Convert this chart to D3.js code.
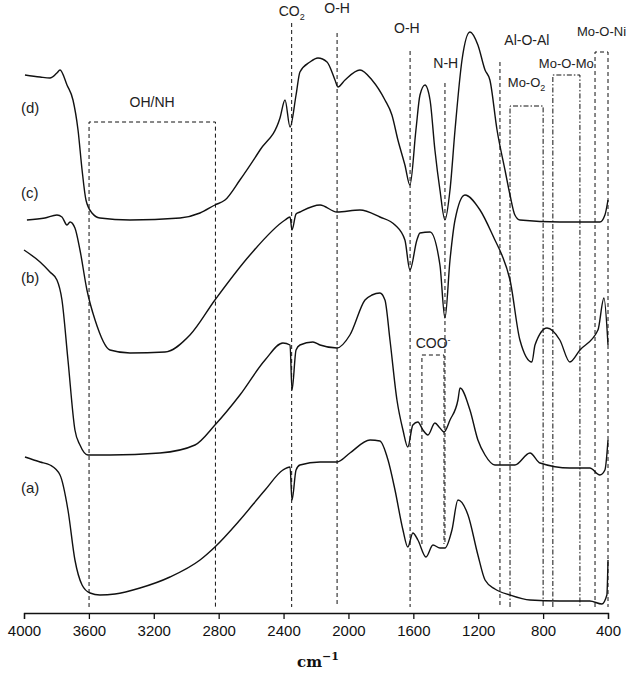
<!DOCTYPE html>
<html><head><meta charset="utf-8">
<script src="https://cdn.jsdelivr.net/npm/d3@7/dist/d3.min.js"></script>
<style>body{margin:0;background:#fff}</style>
</head><body>
<svg id="c" width="642" height="677"></svg>
<script>
// wavenumbers (cm-1) and relative transmittance (arbitrary, offset curves)
const dWn=[3994,3901,3840,3797,3778,3735,3698,3667,3642,3618,3581,3532,3347,3038,2915,2823,2761,2669,2545,2422,2391,2360,2323,2299,2237,2188,2132,2083,2065,2021,1929,1855,1775,1732,1695,1652,1621,1584,1559,1528,1497,1467,1436,1405,1374,1343,1300,1251,1202,1158,1128,1084,1035,1004,974,943,697,450,419,400];
const dT=[538,536,535,540,543,528,513,483,443,413,400,395,393,395,400,408,413,433,463,495,513,486,518,541,551,555,551,533,526,533,543,533,513,498,473,448,428,483,518,528,513,463,423,393,423,483,553,581,568,543,533,483,443,418,398,393,391,391,398,413];
const cWn=[3982,3871,3797,3766,3735,3716,3686,3655,3612,3562,3470,3347,3131,2977,2823,2607,2391,2360,2348,2323,2299,2175,2071,1929,1806,1713,1652,1621,1578,1559,1497,1436,1405,1374,1343,1282,1189,1097,1054,1004,943,869,850,776,697,635,573,462,425,400];
const cT=[393,395,398,396,388,391,385,363,323,293,263,260,261,278,313,358,393,396,383,399,401,408,401,403,396,388,373,343,373,380,381,348,295,353,393,418,403,373,358,333,273,251,268,285,273,251,263,283,315,268];
const bWn=[4000,3901,3840,3797,3766,3729,3686,3655,3606,3470,3162,2946,2823,2669,2514,2404,2360,2348,2323,2299,2219,2175,2071,1991,1898,1855,1806,1775,1744,1701,1664,1634,1603,1572,1541,1510,1467,1436,1411,1374,1325,1312,1251,1202,1158,1097,974,881,819,635,512,450,419,400];
const bT=[363,351,341,333,313,253,183,168,158,158,160,168,188,218,253,270,268,223,263,268,271,268,265,278,313,318,320,313,273,213,183,166,188,191,183,178,190,185,181,193,213,225,203,173,158,148,148,160,150,145,145,138,143,173];
const aWn=[3994,3901,3840,3778,3729,3686,3642,3593,3532,3439,3285,3100,2915,2823,2669,2514,2404,2360,2348,2323,2299,2175,2071,1991,1867,1806,1756,1713,1664,1634,1603,1572,1522,1479,1436,1405,1362,1325,1263,1202,1158,1097,1004,881,697,512,438,407,400];
const aT=[156,151,148,138,103,53,28,20,18,19,25,36,53,66,93,123,143,146,113,143,148,151,151,160,173,172,153,123,83,66,80,73,56,68,65,65,83,113,98,58,33,24,18,13,12,12,9,18,53];
const xTicks=[4000,3600,3200,2800,2400,2000,1600,1200,800,400];
const curveLabels=[["(d)",500],["(c)",415],["(b)",330],["(a)",120]];
// band markers: [wavenumber, top value, bottom value]
const bandLines=[[2350,590,0],[2070,580,0],[1620,562,0],[1405,530,63],[1066,551,0]];
const bandLabels=[["CO",2350,597],["O-H",2070,600],["O-H",1640,580],["N-H",1400,545],["Al-O-Al",900,568],["OH/NH",3210,506]];
const boxes=[[3599,2820,491,0,"4,3"],[1547,1411,258,63,"4,3"],[1004,800,507,0,"5,2,1.5,2"],[740,573,538,0,"5,2,1.5,2"],[480,400,561,0,"4,3"]];
const boxLabels=[["COO",1478,265],["Mo-O",902,526],["Mo-O-Mo",657,545],["Mo-O-Ni",440,577]];

const svg=d3.select("#c");
const x=d3.scaleLinear().domain([4000,400]).range([24,608]);
const y=d3.scaleLinear().domain([0,600]).range([613,13]);
const font="'Liberation Sans',Arial,sans-serif";

bandLines.forEach(([w,t,b])=>svg.append("line").attr("x1",x(w)).attr("x2",x(w)).attr("y1",y(t)).attr("y2",y(b+6))
  .attr("stroke","#111").attr("stroke-width",1).attr("stroke-dasharray","4,3"));
boxes.forEach(([w1,w2,t,b,da])=>{
  svg.append("path").attr("d",`M${x(w1)},${y(b+6)}V${y(t)}H${x(w2)}V${y(b+6)}`).attr("fill","none")
   .attr("stroke","#111").attr("stroke-width",1).attr("stroke-dasharray",da);
});

const line=d3.line().x(d=>x(d[0])).y(d=>y(d[1])).curve(d3.curveMonotoneX);
[[dWn,dT],[cWn,cT],[bWn,bT],[aWn,aT]].forEach(([w,t])=>{
  svg.append("path").attr("d",line(w.map((v,i)=>[v,t[i]]))).attr("fill","none").attr("stroke","#111").attr("stroke-width",1.4);
});

bandLabels.forEach(([s,w,t],i)=>{
  const tx=svg.append("text").attr("x",x(w)).attr("y",y(t)).attr("text-anchor","middle")
  .attr("font-family",font).attr("font-size",14).attr("fill","#222").text(s);
  if(i==0) tx.append("tspan").attr("dy",4).attr("font-size",9).text("2");
});
boxLabels.forEach(([s,w,t],i)=>{
  const tx=svg.append("text").attr("x",x(w)).attr("y",y(t)).attr("text-anchor","middle")
   .attr("font-family",font).attr("font-size",i==0?14:13).attr("fill","#222").text(s);
  if(i==0) tx.append("tspan").attr("dy",-5).attr("font-size",9).text("-");
  if(i==1) tx.append("tspan").attr("dy",4).attr("font-size",9).text("2");
});
curveLabels.forEach(([s,t])=>svg.append("text").attr("x",21).attr("y",y(t)).attr("font-family",font)
  .attr("font-size",15).attr("fill","#222").text(s));

const ax=svg.append("g").attr("transform","translate(0,613)")
  .call(d3.axisBottom(x).tickValues(xTicks).tickSize(6).tickFormat(d3.format("d")));
ax.select(".domain").attr("stroke","#111").attr("stroke-width",1.3);
ax.selectAll(".tick line").attr("stroke","#111").attr("stroke-width",1.3);
ax.selectAll("text").attr("font-family",font).attr("font-size",15).attr("fill","#111").attr("dy","0.9em");
const xl=svg.append("text").attr("x",318).attr("y",667).attr("text-anchor","middle")
  .attr("font-family","'DejaVu Serif',serif").attr("font-size",15).attr("font-weight","bold").attr("fill","#111").text("cm");
xl.append("tspan").attr("dy",-7).attr("font-size",11).text("−1");
</script>
</body></html>
